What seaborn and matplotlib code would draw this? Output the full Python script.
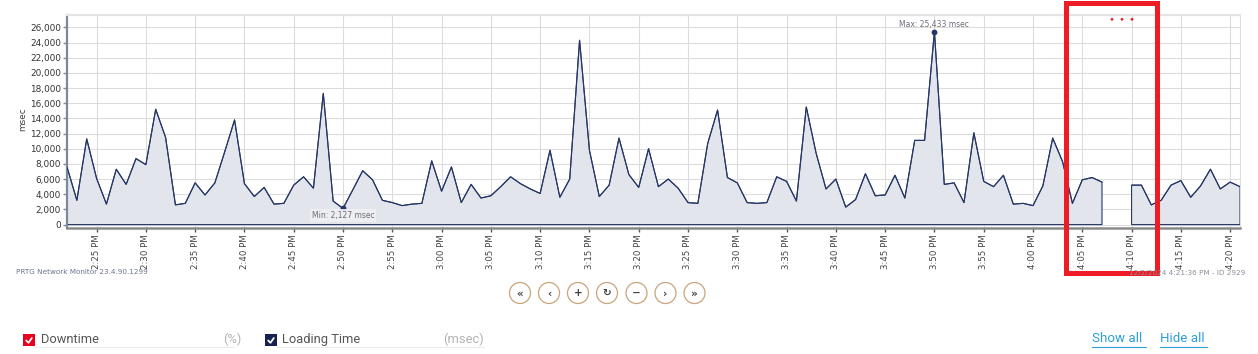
import numpy as np
import pandas as pd
import matplotlib
matplotlib.use("Agg")
import matplotlib.pyplot as plt
import seaborn as sns
from matplotlib.patches import Circle, Rectangle

# ---------------- data ----------------
start_label = "2:22 PM"          # first sample, one sample per minute
loading_ms = [
    7600, 3200, 11300, 6100, 2700, 7300, 5300, 8700, 7900, 15200,   # 2:22-2:31
    11500, 2600, 2800, 5500, 3900, 5500, 9600, 13800, 5400, 3700,   # 2:32-2:41
    4900, 2700, 2800, 5200, 6300, 4800, 17300, 3100, 2127, 4600,    # 2:42-2:51
    7100, 5900, 3200, 2900, 2500, 2700, 2800, 8400, 4400, 7600,     # 2:52-3:01
    2900, 5300, 3500, 3800, 5000, 6300, 5400, 4700, 4100, 9800,     # 3:02-3:11
    3600, 6000, 24300, 9800, 3700, 5200, 11400, 6600, 4900, 10000,  # 3:12-3:21
    5000, 6000, 4800, 2900, 2800, 10700, 15100, 6200, 5500, 2900,   # 3:22-3:31
    2800, 2900, 6300, 5700, 3100, 15500, 9400, 4700, 6000, 2300,    # 3:32-3:41
    3300, 6700, 3800, 3900, 6500, 3500, 11100, 11100, 25433, 5300,  # 3:42-3:51
    5500, 2900, 12100, 5700, 5000, 6500, 2700, 2800, 2500, 5100,    # 3:52-4:01
    11400, 8300, 2800, 5900, 6200, 5600, np.nan, np.nan, 5200, 5200,  # 4:02-4:11
    2600, 3200, 5200, 5800, 3600, 5100, 7300, 4700, 5600, 5000,     # 4:12-4:21
]
tick_labels = ["2:25 PM", "2:30 PM", "2:35 PM", "2:40 PM", "2:45 PM", "2:50 PM",
               "2:55 PM", "3:00 PM", "3:05 PM", "3:10 PM", "3:15 PM", "3:20 PM",
               "3:25 PM", "3:30 PM", "3:35 PM", "3:40 PM", "3:45 PM", "3:50 PM",
               "3:55 PM", "4:00 PM", "4:05 PM", "4:10 PM", "4:15 PM", "4:20 PM"]
y_ticks = list(range(0, 26001, 2000))
min_value = 2127
max_value = 25433
footer_left = "PRTG Network Monitor 23.4.90.1299"
footer_right = "12/2/2024 4:21:36 PM - ID 2929"
legend_items = [("Downtime", "(%)"), ("Loading Time", "(msec)")]


def to_min(lbl):
    hm = lbl.split()[0]
    h, m = hm.split(":")
    return int(h) * 60 + int(m)


start = to_min(start_label)
minutes = np.arange(start, start + len(loading_ms))
vals = np.array(loading_ms, dtype=float)
tick_pos = [to_min(t) for t in tick_labels]

# segments for the line (break at missing values)
seg = np.cumsum(np.isnan(vals))
df = pd.DataFrame({"minute": minutes, "ms": vals, "seg": seg}).dropna()

# ---------------- style ----------------
sns.set_style("white")
plt.rcParams["font.family"] = ["DejaVu Sans"]

NAVY = "#263766"
FILL = "#e2e5ec"

W, H = 1258, 354
fig = plt.figure(figsize=(W / 100, H / 100), dpi=100)
fig.patch.set_facecolor("white")

L, R, T, B = 67, 1240, 15, 228
ax = fig.add_axes([L / W, 1 - B / H, (R - L) / W, (B - T) / H])

ax.fill_between(minutes, 0, vals, facecolor=FILL, edgecolor=NAVY, linewidth=0.8, zorder=2)
sns.lineplot(data=df, x="minute", y="ms", units="seg", estimator=None,
             color=NAVY, linewidth=0.8, ax=ax, zorder=3, legend=False)

# min / max markers
i_min = int(np.nanargmin(vals))
i_max = int(np.nanargmax(vals))
ax.plot([minutes[i_min], minutes[i_max]], [vals[i_min], vals[i_max]], "o",
        color=NAVY, ms=3.2, zorder=4)
ax.annotate(f"Max: {max_value:,} msec", (minutes[i_max], vals[i_max]),
            xytext=(0, 5), textcoords="offset points", ha="center", va="center",
            fontsize=5.5, color="#6b6f7a", zorder=5)
ax.annotate(f"Min: {min_value:,} msec", (minutes[i_min], vals[i_min]),
            xytext=(0, -5.2), textcoords="offset points", ha="center", va="center",
            fontsize=5.5, color="#6b6f7a", zorder=5,
            bbox=dict(boxstyle="square,pad=0.25", fc="#f0f0f3", ec="none", alpha=0.9))

ax.set_xlim(start, start + len(loading_ms) - 1)
ax.set_ylim(-450, 27630)
ax.set_yticks(y_ticks)
ax.set_yticklabels([f"{v:,}" for v in y_ticks])
ax.set_xticks(tick_pos)
ax.set_xticklabels(tick_labels, rotation=90)
ax.set_xlabel("")
ax.set_ylabel("")

ax.grid(True, color="#dcdcdc", linewidth=0.8, zorder=0)
ax.set_axisbelow(True)
ax.tick_params(axis="y", length=3, width=1, color="#7d889c", labelsize=6.4,
               labelcolor="#333333", pad=1.5, left=True)
ax.tick_params(axis="x", length=3, width=1, color="#555555", labelsize=6.2,
               labelcolor="#444444", pad=1.2, bottom=True)
for lab in ax.get_xticklabels():
    lab.set_va("top")

ax.spines["left"].set_color("#7d889c")
ax.spines["left"].set_linewidth(1.6)
ax.spines["bottom"].set_color("#8a8a8a")
ax.spines["bottom"].set_linewidth(1.8)
ax.spines["top"].set_color("#e4e4e4")
ax.spines["top"].set_linewidth(1.6)
ax.spines["right"].set_color("#dedede")
ax.spines["right"].set_linewidth(0.8)

fig.text(23 / W, 1 - 119 / H, "msec", rotation=90, ha="center", va="center",
         fontsize=6.4, color="#444444")

# ---------------- overlay (pixel coordinates) ----------------
ov = fig.add_axes([0, 0, 1, 1], zorder=10)
ov.set_xlim(0, W)
ov.set_ylim(H, 0)
ov.axis("off")
ov.patch.set_alpha(0)

ov.text(16, 272.5, footer_left, fontsize=5.2, color="#6a7590", va="center", ha="left")
ov.text(1245, 273, footer_right, fontsize=5.2, color="#8a8f99", va="center", ha="right")

# navigation buttons
btn_x = [520, 549, 578, 607, 636.5, 665.5, 694.5]
btn_glyph = ["«", "‹", "+", "↻", "−", "›", "»"]
for bx, g in zip(btn_x, btn_glyph):
    ov.add_patch(Circle((bx, 293), 10.5, fill=False, ec="#c9a47c", lw=0.9))
    ov.text(bx, 293.3, g, ha="center", va="center", fontsize=7.5,
            color="#444444", fontweight="bold")

# legend row
LEG_FONT = ["Roboto", "DejaVu Sans"]
boxes = [(23, "#e8001c"), (265, "#17214f")]
name_x = [40.5, 282.5]
unit_x = [242, 484]
for (bx, bc), nx, ux, (name, unit) in zip(boxes, name_x, unit_x, legend_items):
    ov.add_patch(Rectangle((bx, 334), 12, 12, fc=bc, ec="none"))
    ov.plot([bx + 3.2, bx + 5.5, bx + 8.8], [340.5, 342.8, 338], color="white", lw=1.3,
            solid_capstyle="round")
    ov.text(nx, 339.5, name, fontsize=9.3, color="#555555", va="center", ha="left",
            family=LEG_FONT)
    ov.text(ux, 339.5, unit, fontsize=9.3, color="#b3b3b3", va="center", ha="right",
            family=LEG_FONT)
ov.plot([33, 234], [346.5, 346.5], color="#ececec", lw=0.8)
ov.plot([277, 484], [346.5, 346.5], color="#ececec", lw=0.8)

for tx, txt, uw in [(1092, "Show all", 54), (1160, "Hide all", 47)]:
    ov.text(tx, 339, txt, fontsize=9.6, color="#2a9fd8", va="center", ha="left",
            family=LEG_FONT)
    ov.plot([tx, tx + uw], [346.5, 346.5], color="#2a9fd8", lw=0.8)

# red highlight box and dots
ov.add_patch(Rectangle((1065.5, 2.5), 91, 270, fill=False, ec="#ee1c25", lw=3.6))
for dx in [1112, 1122, 1132]:
    ov.add_patch(Circle((dx, 19.3), 1.4, fc="#ee1c25", ec="none"))

fig.savefig("out.png", dpi=100)
